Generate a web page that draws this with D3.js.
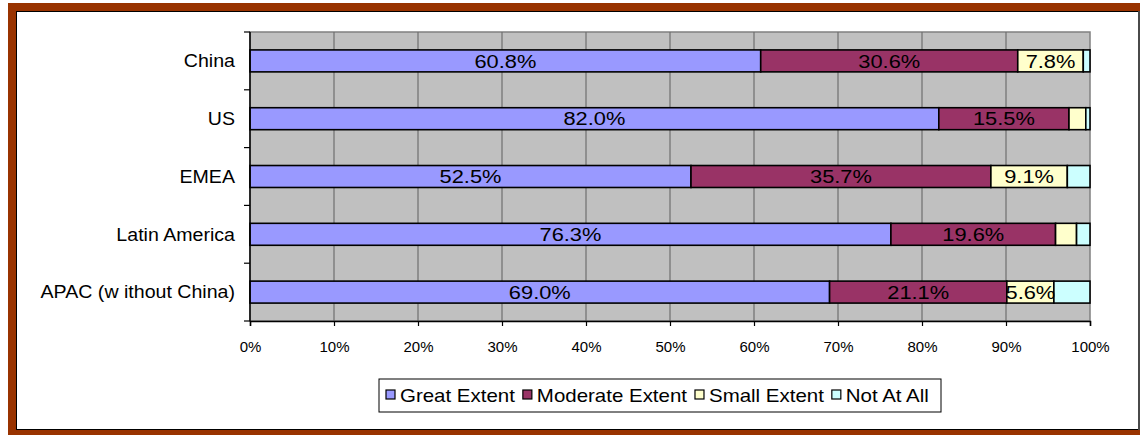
<!DOCTYPE html>
<html><head><meta charset="utf-8">
<script src="https://cdn.jsdelivr.net/npm/d3@7"></script>
<style>body{margin:0;background:#fff}svg{display:block}text{font-family:"Liberation Sans",Arial,sans-serif}</style>
</head><body><svg id="c" width="1140" height="435"></svg>
<script>
const categories = ["China","US","EMEA","Latin America","APAC (w ithout China)"];
const seriesNames = ["Great Extent","Moderate Extent","Small Extent","Not At All"];
const greatExtent = [60.8,82.0,52.5,76.3,69.0];
const moderateExtent = [30.6,15.5,35.7,19.6,21.1];
const smallExtent = [7.8,2.0,9.1,2.5,5.6];
const notAtAll = [0.8,0.5,2.7,1.6,4.3];
const xTicks = [0,10,20,30,40,50,60,70,80,90,100];
const colors = ["#9999FF","#993366","#FFFFCC","#CCFFFF"];

const svg = d3.select("#c");
// frame
svg.append("rect").attr("x",8).attr("y",3).attr("width",1140).attr("height",440).attr("fill","#993300");
svg.append("rect").attr("x",16).attr("y",11).attr("width",1124).attr("height",419).attr("fill","#000");
svg.append("rect").attr("x",17).attr("y",12).attr("width",1121).attr("height",417).attr("fill","#fff");
svg.append("rect").attr("x",1138).attr("y",11).attr("width",2).attr("height",419).attr("fill","#4a4a4a");

const data = categories.map((c,i)=>({cat:c,"Great Extent":greatExtent[i],"Moderate Extent":moderateExtent[i],"Small Extent":smallExtent[i],"Not At All":notAtAll[i]}));
const x = d3.scaleLinear().domain([0,100]).range([250,1090]);
const y = d3.scaleBand().domain(categories).range([32,321]).paddingInner(0.62).paddingOuter(0.31);

// plot area
svg.append("rect").attr("x",x(0)).attr("y",32).attr("width",x(100)-x(0)).attr("height",289).attr("fill","#C0C0C0").attr("stroke","#808080").attr("stroke-width",1.5);
svg.append("g").selectAll("line").data(xTicks.slice(1,-1)).join("line")
  .attr("x1",d=>x(d)).attr("x2",d=>x(d)).attr("y1",32).attr("y2",321).attr("stroke","#6e6e6e").attr("stroke-width",1.2);

// bars
const stack = d3.stack().keys(seriesNames)(data);
stack.forEach((s,k)=>{
  const g = svg.append("g");
  g.selectAll("rect").data(s).join("rect")
    .attr("x",d=>x(d[0])).attr("width",d=>x(d[1])-x(d[0]))
    .attr("y",d=>y(d.data.cat)).attr("height",y.bandwidth())
    .attr("fill",colors[k]).attr("stroke","#000").attr("stroke-width",1.6);
});
// labels
stack.forEach((s,k)=>{
  s.forEach(d=>{
    const v = d[1]-d[0];
    if (v < 5) return;
    svg.append("text").attr("transform",`translate(${(x(d[0])+x(d[1]))/2},${y(d.data.cat)+y.bandwidth()/2}) scale(1.18,1)`)
      .attr("text-anchor","middle").attr("dy","0.36em").attr("font-size",18.5).attr("fill","#000")
      .text(v.toFixed(1)+"%");
  });
});

// x axis
const xa = svg.append("g").attr("transform","translate(0,321)")
  .call(d3.axisBottom(x).tickValues(xTicks).tickSize(5).tickPadding(15).tickFormat(d=>d+"%"));
xa.select(".domain").attr("stroke","#000").attr("stroke-width",1.5);
xa.selectAll(".tick line").attr("stroke","#000").attr("stroke-width",1.2);
xa.selectAll("text").attr("font-size",15).attr("font-family","Liberation Sans, Arial, sans-serif").attr("fill","#000");

// y axis
svg.append("line").attr("x1",250).attr("x2",250).attr("y1",32).attr("y2",321).attr("stroke","#000").attr("stroke-width",1.5);
const step = y.step();
svg.append("g").selectAll("line").data(d3.range(categories.length+1)).join("line")
  .attr("x1",244).attr("x2",250).attr("y1",i=>32+i*step).attr("y2",i=>32+i*step).attr("stroke","#000").attr("stroke-width",1.2);
svg.append("g").selectAll("text").data(categories).join("text")
  .attr("transform",d=>`translate(235,${y(d)+y.bandwidth()/2}) scale(1.12,1)`)
  .attr("text-anchor","end").attr("dy","0.36em").attr("font-size",17.5).attr("fill","#000").text(d=>d);

// legend
const lg = svg.append("g");
lg.append("rect").attr("x",379).attr("y",379).attr("width",562).attr("height",33).attr("fill","#fff").attr("stroke","#000").attr("stroke-width",1);
let cx = 386;
seriesNames.forEach((n,k)=>{
  lg.append("rect").attr("x",cx).attr("y",390).attr("width",9).attr("height",9).attr("fill",colors[k]).attr("stroke","#000").attr("stroke-width",1.2);
  const t = lg.append("text").attr("transform",`translate(${cx+14},395.5) scale(1.17,1)`).attr("dy","0.36em").attr("font-size",17.5).attr("fill","#000").text(n);
  cx += 14 + t.node().getComputedTextLength()*1.17 + 8;
});
</script></body></html>
